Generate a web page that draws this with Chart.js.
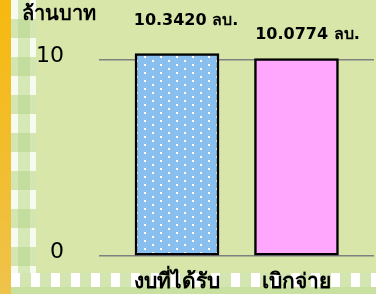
<!DOCTYPE html>
<html lang="th">
<head>
    <meta charset="UTF-8">
    <title>งบประมาณ</title>
    <script src="https://cdn.jsdelivr.net/npm/chart.js"></script>
    <style>
        html, body {
            margin: 0;
            padding: 0;
        }

        body {
            width: 376px;
            height: 294px;
            overflow: hidden;
            background-color: #d9e6a9;
        }

        .wrap {
            position: relative;
            width: 376px;
            height: 294px;
        }

        /* orange edge + gingham strips of the slide */
        .edge {
            position: absolute;
            left: 0; top: 0;
            width: 11px; height: 294px;
            background: linear-gradient(#f6b90f, #efc24a);
        }

        .strip {
            position: absolute;
            left: 11px; top: 0;
            width: 25px; height: 294px;
            background: repeating-linear-gradient(180deg, #f7faef 0 19px, #d3e5b0 19px 38px);
        }

        .strip2 {
            position: absolute;
            left: 18px; top: 0;
            width: 12px; height: 294px;
            background: repeating-linear-gradient(180deg, #d6e8b6 0 19px, #c2dd9e 19px 38px);
        }

        .bottom {
            position: absolute;
            left: 11px; top: 273px;
            width: 365px; height: 21px;
            background:
                linear-gradient(180deg, transparent 0 14px, #c8e0a0 14px 21px),
                repeating-linear-gradient(90deg, #ffffff 0 9px, #d3e5b0 9px 20px);
        }

        canvas {
            position: absolute;
            left: 0; top: 0;
        }
    </style>
</head>
<body>
<div class="wrap">
    <div class="edge"></div>
    <div class="strip"></div>
    <div class="strip2"></div>
    <div class="bottom"></div>
    <canvas id="myChart" width="376" height="294"></canvas>
</div>

<script>
    const categories = ['งบที่ได้รับ', 'เบิกจ่าย'];
    const values = [10.3420, 10.0774];
    const valueLabels = ['10.3420 ลบ.', '10.0774 ลบ.'];
    const yTicks = [0, 10];
    const unitLabel = 'ล้านบาท';

    const thaiFont = 'Tahoma, "DejaVu Sans", sans-serif';

    // white dots on blue, like the Excel pattern fill
    function dotPattern() {
        const c = document.createElement('canvas');
        c.width = 16;
        c.height = 8;
        const g = c.getContext('2d');
        g.fillStyle = '#88bfee';
        g.fillRect(0, 0, 16, 8);
        g.fillStyle = '#ffffff';
        g.fillRect(0, 0, 2, 2);
        g.fillRect(8, 4, 2, 2);
        return g.createPattern(c, 'repeat');
    }

    const barLabels = {
        id: 'barLabels',
        afterDatasetsDraw(chart, args, opts) {
            const ctx = chart.ctx;
            const meta = chart.getDatasetMeta(0);
            ctx.save();
            ctx.fillStyle = '#000';
            ctx.font = 'bold 16px ' + thaiFont;
            ctx.textAlign = 'center';
            ctx.textBaseline = 'middle';
            meta.data.forEach((bar, i) => {
                const off = opts.offsets[i];
                ctx.fillText(valueLabels[i], bar.x + off[0], bar.y + off[1]);
            });
            ctx.font = 'bold 20px ' + thaiFont;
            ctx.textAlign = 'left';
            ctx.fillText(unitLabel, 22, 15);
            ctx.restore();
        }
    };

    const ctx = document.getElementById('myChart').getContext('2d');
    new Chart(ctx, {
        type: 'bar',
        data: {
            datasets: [{
                data: values.map((v, i) => ({ x: i, y: v })),
                backgroundColor: [dotPattern(), '#ffa6fd'],
                borderColor: '#000000',
                borderWidth: 2.5,
                borderSkipped: false,
                barThickness: 84
            }]
        },
        options: {
            responsive: false,
            animation: false,
            layout: { padding: { top: 21, right: 2, left: 0, bottom: 0 } },
            plugins: {
                legend: { display: false },
                tooltip: { enabled: false },
                barLabels: { offsets: [[9, -33], [11, -24]] }
            },
            scales: {
                x: {
                    type: 'linear',
                    offset: false,
                    min: -0.653,
                    max: 1.649,
                    grid: { display: false },
                    border: { display: false },
                    afterBuildTicks: (scale) => {
                        scale.ticks = categories.map((_, i) => ({ value: i }));
                    },
                    afterFit: (scale) => {
                        scale.height = 38;
                        scale.paddingLeft = 0;
                        scale.paddingRight = 0;
                    },
                    ticks: {
                        color: '#000',
                        padding: 6,
                        maxRotation: 0,
                        autoSkip: false,
                        font: { family: thaiFont, size: 21, weight: 'bold' },
                        callback: (v) => categories[v]
                    }
                },
                y: {
                    min: 0,
                    max: 12,
                    afterBuildTicks: (scale) => {
                        scale.ticks = yTicks.map(v => ({ value: v }));
                    },
                    afterFit: (scale) => {
                        scale.width = 99;
                        scale.paddingTop = 0;
                        scale.paddingBottom = 0;
                    },
                    grid: { color: '#808080', lineWidth: 1.5, drawTicks: false },
                    border: { display: false },
                    ticks: {
                        color: '#000',
                        padding: 35,
                        labelOffset: -4,
                        font: { family: thaiFont, size: 22 }
                    }
                }
            }
        },
        plugins: [barLabels]
    });
</script>
</body>
</html>
